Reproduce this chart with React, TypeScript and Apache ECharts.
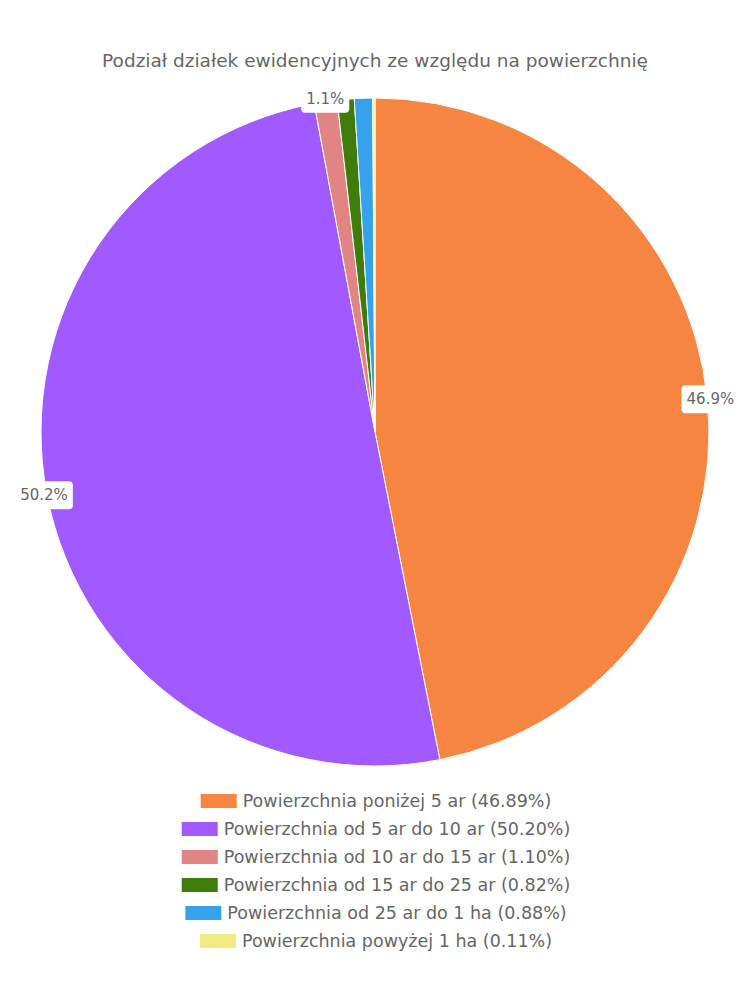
import React, { useEffect, useRef } from "react";
import * as echarts from "echarts";

const titleText = "Podział działek ewidencyjnych ze względu na powierzchnię";
const categories = [
  "Powierzchnia poniżej 5 ar",
  "Powierzchnia od 5 ar do 10 ar",
  "Powierzchnia od 10 ar do 15 ar",
  "Powierzchnia od 15 ar do 25 ar",
  "Powierzchnia od 25 ar do 1 ha",
  "Powierzchnia powyżej 1 ha",
];
const values = [46.89, 50.2, 1.1, 0.82, 0.88, 0.11];
const colors = ["#f58540", "#a05aff", "#e08484", "#3e7c0c", "#36a2eb", "#f0ec82"];

const FONT = "DejaVu Sans";
const TEXT_COLOR = "#666666";

export default function App() {
  const ref = useRef<HTMLDivElement>(null);
  useEffect(() => {
    document.body.style.margin = "0";
    const chart = echarts.init(ref.current!, null, { renderer: "svg" });
    const total = values.reduce((a, b) => a + b, 0);
    const pieData = categories.map((name, i) => ({
      name,
      value: values[i],
      itemStyle: { color: colors[i] },
    }));
    const labelData = categories.map((name, i) => ({
      name,
      value: values[i],
      label: { show: values[i] / total >= 0.01 },
    }));
    const legends = categories.map((name, i) => ({
      data: [name],
      left: "center",
      top: 787 + i * 28,
      orient: "horizontal",
      itemWidth: 38,
      itemHeight: 16,
      itemGap: 10,
      icon: "rect",
      textStyle: { color: TEXT_COLOR, fontSize: 17.5, fontFamily: FONT },
      formatter: (n: string) => {
        const idx = categories.indexOf(n);
        return `${n} (${((values[idx] / total) * 100).toFixed(2)}%)`;
      },
    }));
    chart.setOption({
      animation: false,
      backgroundColor: "#ffffff",
      title: {
        text: titleText,
        left: "center",
        top: 46,
        textStyle: { color: TEXT_COLOR, fontSize: 18.5, fontWeight: "normal", fontFamily: FONT },
      },
      legend: legends,
      series: [
        {
          type: "pie",
          center: [375, 432],
          radius: [0, 334],
          startAngle: 90,
          clockwise: true,
          data: pieData,
          label: { show: false },
          labelLine: { show: false },
          itemStyle: { borderColor: "#ffffff", borderWidth: 1 },
          emphasis: { disabled: true },
        },
        {
          type: "pie",
          center: [375, 432],
          radius: [324, 344],
          startAngle: 90,
          clockwise: true,
          silent: true,
          data: labelData,
          itemStyle: { color: "rgba(0,0,0,0)", borderWidth: 0 },
          labelLine: { show: false },
          emphasis: { disabled: true },
          label: {
            position: "inside",
            formatter: (p: any) => `${p.percent.toFixed(1)}%`,
            color: TEXT_COLOR,
            fontSize: 15,
            fontFamily: FONT,
            backgroundColor: "#ffffff",
            borderRadius: 4,
            padding: [7, 5, 6, 5],
          },
        },
      ],
    });
    return () => chart.dispose();
  }, []);
  return <div ref={ref} style={{ width: 750, height: 1000 }} />;
}
